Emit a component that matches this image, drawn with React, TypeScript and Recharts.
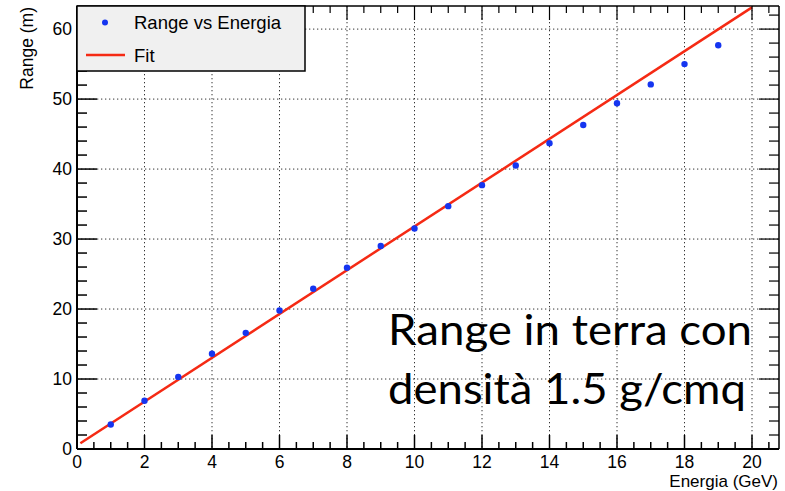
import {
  ComposedChart,
  Line,
  Scatter,
  XAxis,
  YAxis,
  CartesianGrid,
  ReferenceLine,
} from 'recharts';

// Measured range (m) versus beam energy (GeV)
const energia = [1, 2, 3, 4, 5, 6, 7, 8, 9, 10, 11, 12, 13, 14, 15, 16, 17, 18, 19];
const rangeM = [
  3.5, 6.9, 10.3, 13.6, 16.6, 19.8, 22.9, 25.9, 29.0, 31.5, 34.7, 37.7, 40.5, 43.7,
  46.3, 49.4, 52.1, 55.0, 57.7,
];

// Linear fit, end points of the fitted range
const fitEnergia = [0.1, 20];
const fitRange = [0.83, 63.1];

const X_MAX = 20.8;
const Y_MAX = 63.3;
const xTicks = Array.from({ length: 42 }, (_, i) => i * 0.5);
const yTicks = Array.from({ length: 32 }, (_, i) => i * 2);
const xGrid = [2, 4, 6, 8, 10, 12, 14, 16, 18, 20];
const yGrid = [10, 20, 30, 40, 50, 60];

const W = 785;
const H = 491;
const MARGIN = { top: 6, right: 6, left: 0, bottom: 0 };
const Y_AXIS_W = 77;
const X_AXIS_H = 42;
const PLOT_W = W - Y_AXIS_W - MARGIN.right;
const PLOT_H = H - X_AXIS_H - MARGIN.top;

const FONT = '"Liberation Sans", Arial, Helvetica, sans-serif';
const NOTE_FONT = "Lato, 'Open Sans', sans-serif";

const points = energia.map((x, i) => ({ x, y: rangeM[i] }));
const fit = fitEnergia.map((x, i) => ({ x, y: fitRange[i] }));

// ROOT-style ticks: drawn inside the frame, mirrored on the opposite side
function XTick(props: any) {
  const { x, y, payload } = props;
  const v = payload.value as number;
  const major = Math.abs(v % 2) < 1e-9;
  const len = major ? 14 : 7;
  return (
    <g>
      <line x1={x} x2={x} y1={y} y2={y - len} stroke="#000" strokeWidth={1.5} />
      <line x1={x} x2={x} y1={y - PLOT_H} y2={y - PLOT_H + len} stroke="#000" strokeWidth={1.2} />
      {major && (
        <text x={x} y={y + 18.5} textAnchor="middle" fontSize={17.5} fontFamily={FONT} fill="#000">
          {v}
        </text>
      )}
    </g>
  );
}

function YTick(props: any) {
  const { x, y, payload } = props;
  const v = payload.value as number;
  const major = v % 10 === 0;
  const len = major ? 20 : 10;
  return (
    <g>
      <line x1={x} x2={x + len} y1={y} y2={y} stroke="#000" strokeWidth={1.5} />
      <line x1={x + PLOT_W} x2={x + PLOT_W - len} y1={y} y2={y} stroke="#000" strokeWidth={1.2} />
      {major && (
        <text x={x - 5} y={y + 6} textAnchor="end" fontSize={17.5} fontFamily={FONT} fill="#000">
          {v}
        </text>
      )}
    </g>
  );
}

export default function App() {
  return (
    <div style={{ position: 'absolute', left: 0, top: 0, width: W, height: H, background: '#fff' }}>
      <ComposedChart width={W} height={H} margin={MARGIN}>
        <CartesianGrid
          verticalValues={xGrid}
          horizontalValues={yGrid}
          stroke="#333"
          strokeWidth={1}
          strokeDasharray="1.3 2.7"
        />
        <XAxis
          dataKey="x"
          type="number"
          domain={[0, X_MAX]}
          ticks={xTicks}
          interval={0}
          height={X_AXIS_H}
          tickSize={0}
          tickMargin={0}
          tickLine={false}
          axisLine={{ stroke: '#000', strokeWidth: 2 }}
          tick={<XTick />}
        />
        <YAxis
          type="number"
          domain={[0, Y_MAX]}
          ticks={yTicks}
          interval={0}
          width={Y_AXIS_W}
          tickSize={0}
          tickMargin={0}
          tickLine={false}
          axisLine={{ stroke: '#000', strokeWidth: 2 }}
          tick={<YTick />}
        />
        <ReferenceLine x={X_MAX} stroke="#000" strokeWidth={1.5} />
        <ReferenceLine y={Y_MAX} stroke="#000" strokeWidth={1.5} />
        <Line
          data={fit}
          dataKey="y"
          type="linear"
          stroke="#f52a14"
          strokeWidth={2.5}
          dot={false}
          isAnimationActive={false}
        />
        <Scatter
          data={points}
          dataKey="y"
          fill="#1535f0"
          shape={(p: any) => <circle cx={p.cx} cy={p.cy} r={3.2} fill="#1535f0" />}
          isAnimationActive={false}
        />
      </ComposedChart>

      <svg
        width={W}
        height={H}
        style={{ position: 'absolute', left: 0, top: 0, pointerEvents: 'none' }}
      >
        {/* legend box */}
        <rect x={77} y={6} width={228} height={65} fill="#f0f0f0" stroke="#000" strokeWidth={1.5} />
        <circle cx={105} cy={22.5} r={3} fill="#1535f0" />
        <text x={134} y={28.5} fontSize={18.5} fontFamily={FONT} fill="#000">
          Range vs Energia
        </text>
        <line x1={86} x2={125} y1={55} y2={55} stroke="#f52a14" strokeWidth={2.5} />
        <text x={134} y={62} fontSize={18.5} fontFamily={FONT} fill="#000">
          Fit
        </text>

        {/* axis titles */}
        <text
          transform="translate(33, 7) rotate(-90)"
          textAnchor="end"
          fontSize={17.5}
          fontFamily={FONT}
          fill="#000"
        >
          Range (m)
        </text>
        <text x={778} y={487} textAnchor="end" fontSize={17} fontFamily={FONT} fill="#000">
          Energia (GeV)
        </text>

        {/* annotation */}
        <text
          x={388}
          y={345}
          fontSize={43}
          fontFamily={NOTE_FONT}
          fill="#000"
          textLength={364}
          lengthAdjust="spacingAndGlyphs"
        >
          Range in terra con
        </text>
        <text
          x={388}
          y={404}
          fontSize={43}
          fontFamily={NOTE_FONT}
          fill="#000"
          textLength={358}
          lengthAdjust="spacingAndGlyphs"
        >
          densità 1.5 g/cmq
        </text>
      </svg>
    </div>
  );
}
